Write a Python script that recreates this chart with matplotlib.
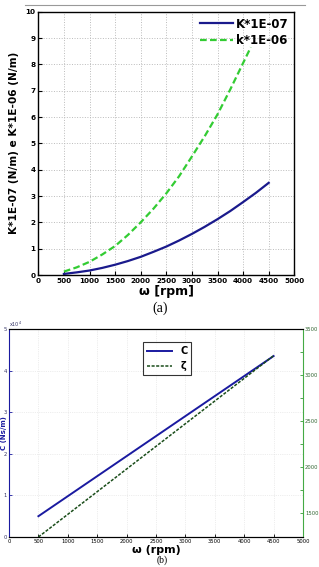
import matplotlib
matplotlib.use("Agg")
import matplotlib.pyplot as plt
import numpy as np

# ---- data (a)
w_K = [500, 750, 1000, 1250, 1500, 1750, 2000, 2250, 2500, 2750, 3000, 3250, 3500, 3750, 4000, 4250, 4500]
K_vals = [0.04, 0.10, 0.17, 0.27, 0.39, 0.53, 0.69, 0.88, 1.08, 1.31, 1.56, 1.83, 2.12, 2.43, 2.77, 3.12, 3.5]
w_k = [500, 750, 1000, 1250, 1500, 1750, 2000, 2250, 2500, 2750, 3000, 3250, 3500, 3750, 4000, 4150]
k_vals = [0.13, 0.29, 0.50, 0.78, 1.10, 1.52, 2.00, 2.52, 3.10, 3.75, 4.50, 5.27, 6.10, 7.05, 8.05, 8.65]
xticks_a = [0, 500, 1000, 1500, 2000, 2500, 3000, 3500, 4000, 4500, 5000]
yticks_a = [0, 1, 2, 3, 4, 5, 6, 7, 8, 9, 10]

# ---- data (b)
w_b = [500, 4500]
C_vals = [0.5, 4.35]
zeta_vals = [1240, 3210]
yticks_bl = [0, 1, 2, 3, 4, 5]
yticks_br = [1500, 2000, 2500, 3000, 3500]

W, H = 319, 567
fig = plt.figure(figsize=(W/100, H/100), dpi=100)

# separator line at top
fig.add_artist(plt.Line2D([25/W, 305/W], [1-5/H, 1-5/H], color="#999999", lw=0.8))

# ---------------- panel (a)
ax = fig.add_axes([38.3/W, 1-275/H, 256/W, (275-11.7)/H])
ax.plot(w_K, K_vals, color="#1a1a8c", lw=1.6, label="K*1E-07")
ax.plot(w_k, k_vals, color="#33cc33", lw=1.6, ls=(0, (3, 1.5)), label="k*1E-06")
ax.set_xlim(0, 5000)
ax.set_ylim(0, 10)
ax.set_xticks(xticks_a)
ax.set_yticks(yticks_a)
ax.tick_params(direction="in", labelsize=5.2, length=3, width=0.8, pad=2)
for lab in ax.get_xticklabels() + ax.get_yticklabels():
    lab.set_fontweight("bold")
ax.grid(True, ls=":", color="#bbbbbb", lw=0.7)
for s in ax.spines.values():
    s.set_linewidth(1.0)
ax.set_xlabel("ω [rpm]", fontsize=9, fontweight="bold", labelpad=1)
ax.set_ylabel("K*1E-07 (N/m) e K*1E-06 (N/m)", fontsize=7.6, fontweight="bold", labelpad=5)
leg = ax.legend(loc="upper right", frameon=False, handlelength=2.8,
                borderaxespad=0.1, handletextpad=0.2, labelspacing=0.3,
                prop={"weight": "bold", "size": 8.5})

fig.text(160/W, 1-308/H, "(a)", ha="center", va="center", fontsize=10, family="Liberation Serif")

# ---------------- panel (b)
axb = fig.add_axes([9/W, 1-537/H, 294/W, (537-329)/H])
axb.plot(w_b, C_vals, color="#1a1aa0", lw=1.4, label="C")
axb.set_xlim(0, 5000)
axb.set_ylim(0, 5)
axb.set_xticks(xticks_a)
axb.set_yticks(yticks_bl)
axb.tick_params(direction="in", labelsize=3.8, length=2.5, width=0.6, pad=1.5)
axb.tick_params(axis="y", colors="#1a1aa0", labelcolor="#333366")
axb.grid(True, ls=":", color="#dddddd", lw=0.5)
axb.spines["left"].set_color("#1a1aa0")
axb.spines["right"].set_visible(False)
axb.set_xlabel("ω (rpm)", fontsize=8, fontweight="bold", labelpad=1)
axb.text(0.0, 1.0, "x10$^{4}$", transform=axb.transAxes, fontsize=3.5, color="#333366",
         ha="left", va="bottom")
fig.text(1/W, 1-433/H, "C (Ns/m)", rotation=90, fontsize=5, fontweight="bold",
         color="#1a1aa0", ha="left", va="center")

axr = axb.twinx()
axr.plot(w_b, zeta_vals, color="#1a4d1a", lw=1.1, ls=(0, (2, 1)), label="ζ")
axr.set_ylim(1240, 3500)
axr.set_yticks(yticks_br)
axr.set_yticks([1750, 2250, 2750, 3250], minor=True)
axr.tick_params(direction="in", labelsize=3.8, length=2.5, width=0.6, pad=1.5,
                colors="#339933", labelcolor="#336633")
axr.tick_params(which="minor", direction="in", length=2, colors="#339933")
axr.spines["right"].set_color("#44aa44")
axr.spines["left"].set_visible(False)

h1, l1 = axb.get_legend_handles_labels()
h2, l2 = axr.get_legend_handles_labels()
lg = axr.legend(h1 + h2, l1 + l2, loc="upper left", bbox_to_anchor=(0.44, 0.96),
                frameon=True, fancybox=False, edgecolor="black",
                handlelength=2.6, borderpad=0.4, labelspacing=0.5,
                prop={"weight": "bold", "size": 7})
lg.get_frame().set_linewidth(0.8)

fig.text(162/W, 2/H, "(b)", ha="center", va="bottom", fontsize=7, family="Liberation Serif")

fig.savefig("out.png", dpi=100)
